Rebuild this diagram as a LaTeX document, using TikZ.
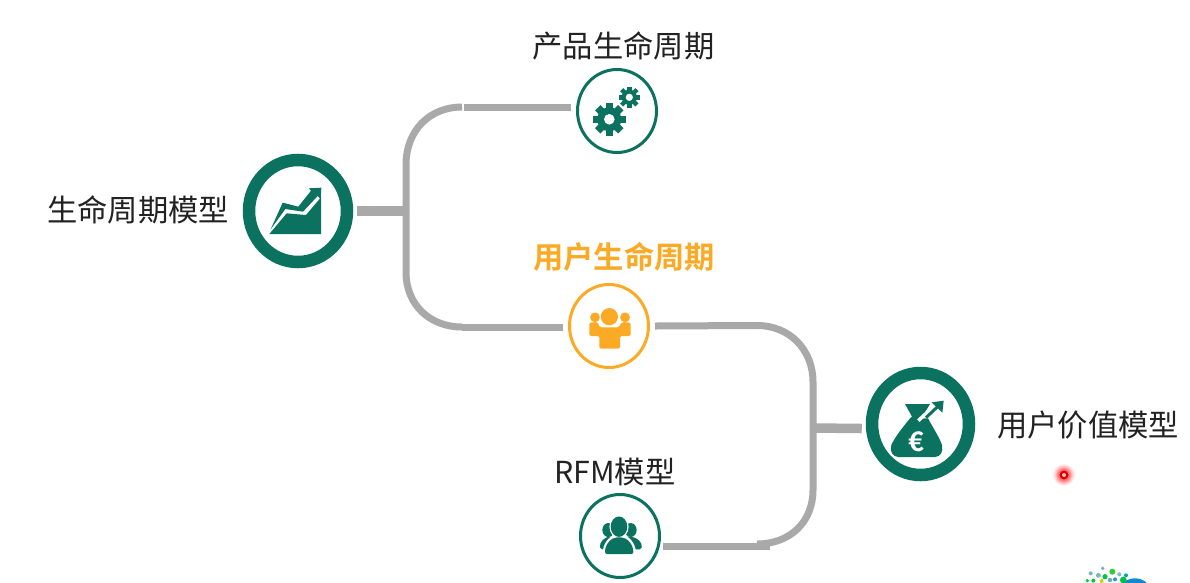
\documentclass[tikz,border=0pt]{standalone}
\usepackage{fontspec}
\setmainfont{Noto Sans CJK SC}[BoldFont={Noto Sans CJK SC Bold}]
\usetikzlibrary{shapes.geometric}
\definecolor{tgreen}{HTML}{0B7260}
\definecolor{torange}{HTML}{FBAA26}
\definecolor{tgrey}{HTML}{A9A9A9}
\definecolor{ttext}{HTML}{222222}
\tikzset{
  bigring/.style={ellipse,draw=tgreen,line width=12.5pt,inner sep=0pt,fill=white},
  thinring/.style={ellipse,draw=#1,line width=3pt,minimum width=79pt,minimum height=83pt,inner sep=0pt,fill=white},
  lab/.style={text=ttext,font=\fontsize{30.3}{32}\selectfont,inner sep=0pt,anchor=center},
  conn/.style={draw=tgrey,line width=7pt,line cap=butt},
  stem/.style={draw=tgrey,line width=9.5pt,line cap=butt},
  zoomed/.style={x=0.33333pt,y=-0.33333pt}
}
\begin{document}
\begin{tikzpicture}[x=1pt,y=-1pt]
\useasboundingbox (0,0) rectangle (1190,582);
\fill[white] (0,0) rectangle (1190,582);

% nodes
\node[bigring,minimum width=98pt,minimum height=102pt] (life) at (298,211) {};
\node[bigring,minimum width=97pt,minimum height=102pt] (value) at (920.5,424) {};
\node[thinring=tgreen] (prod) at (617,111) {};
\node[thinring=torange] (user) at (609,326) {};
\node[thinring=tgreen] (rfm) at (620,536) {};

\node[lab] (tlife) at (138,210) {生命周期模型};
\node[lab] (tprod) at (623.5,46) {产品生命周期};
\node[lab,text=torange,font=\fontsize{30.3}{32}\selectfont\bfseries] (tuser) at (624,257) {用户生命周期};
\node[lab] (trfm) at (615,472) {RFM模型};
\node[lab] (tvalue) at (1088,425) {用户价值模型};

% connectors
\coordinate (busL) at (406,211);
\coordinate (busR) at (813,428);
\draw[stem] ([xshift=4pt]life.east) -- (busL);
\draw[conn] (busL) -- (406,165) .. controls (406,130) and (430,107) .. (462,107);
\draw[conn] (464,107) -- ([xshift=-5pt,yshift=4pt]prod.west);
\draw[conn] (busL) -- (406,272) .. controls (406,305) and (430,327) .. (462,327);
\draw[conn] (462,327.5) -- ([xshift=-5pt,yshift=-1.5pt]user.west);
\draw[conn] ([xshift=5pt]user.east) -- (757,325.5);
\draw[conn] (757,325.5) .. controls (790,325.5) and (813,350) .. (813,382) -- (busR);
\draw[conn] (busR) -- (813,490) .. controls (813,522) and (790,544) .. (757,544);
\draw[conn] (770,546.5) -- ([xshift=2pt,yshift=-10.5pt]rfm.east);
\draw[stem] (busR) -- ([xshift=-4pt,yshift=-4.5pt]value.west);

% chart icon
\begin{scope}[shift={(230,60)},zoomed]
  \fill[tgreen] (118,522) -- (273,522) -- (273,412) -- (228,465) -- (170,460) -- cycle;
  \fill[tgreen] (122,508) -- (158,428) -- (205,440) -- (243,392) -- (236,385) -- (274,383) -- (272,418) -- (263,408) -- (219,455) -- (166,447) -- cycle;
\end{scope}

% gears icon
\begin{scope}[tgreen]
  \foreach \a in {0,45,...,315}
    \fill[rotate around={\a:(609.3,119.3)}] (605.5,119.3) rectangle (613.1,103);
  \fill (609.3,119.3) circle[radius=12pt];
  \fill[white] (609.3,119.3) circle[radius=5.3pt];
  \foreach \a in {0,45,...,315}
    \fill[rotate around={\a:(629.3,97.3)}] (627.1,97.3) rectangle (631.5,86.5);
  \fill (629.3,97.3) circle[radius=7.6pt];
  \fill[white] (629.3,97.3) circle[radius=3.6pt];
\end{scope}

% orange users icon
\begin{scope}[shift={(540,270)},zoomed]
  \fill[torange] (165,142) circle[radius=4.9pt];
  \fill[torange] (255,142) circle[radius=4.9pt];
  \fill[white] (208,140) circle[radius=9.6pt];
  \fill[white] (180,158) -- (236,158) -- (232,170) -- (184,170) -- cycle;
  \fill[torange,rounded corners=1.5pt] (148,158) -- (172,156) -- (180,172) -- (236,172) -- (246,156) -- (272,158) -- (272,198) -- (240,198) -- (240,236) -- (178,236) -- (178,198) -- (148,198) -- cycle;
  \fill[torange] (208,140) circle[radius=8.6pt];
\end{scope}

% green users icon
\begin{scope}[shift={(560,480)},zoomed]
  \fill[tgreen] (145,150) ellipse[x radius=6pt,y radius=7pt];
  \fill[tgreen] (212,150) ellipse[x radius=6pt,y radius=7pt];
  \fill[tgreen,rounded corners=2pt] (120,208) .. controls (118,185) and (135,172) .. (150,170) -- (208,170) .. controls (230,172) and (247,185) .. (245,208) -- cycle;
  \fill[white] (177,140) ellipse[x radius=9.6pt,y radius=11.5pt];
  \fill[white,rounded corners=3pt] (128,228) .. controls (128,190) and (150,165) .. (177,165) .. controls (205,165) and (228,190) .. (228,228) -- cycle;
  \fill[tgreen] (177,140) ellipse[x radius=8.3pt,y radius=10.2pt];
  \fill[tgreen,rounded corners=2pt] (135,222) .. controls (135,192) and (155,172) .. (177,172) .. controls (200,172) and (220,192) .. (220,222) -- cycle;
\end{scope}

% money bag icon
\begin{scope}[shift={(850,350)},zoomed]
  \fill[tgreen] (165,162) -- (240,162) -- (228,182) -- (216,205) -- (234,205) .. controls (250,235) and (268,262) .. (276,285) .. controls (280,305) and (272,320) .. (255,321) -- (145,321) .. controls (128,320) and (118,305) .. (124,285) .. controls (135,260) and (160,230) .. (180,205) -- (186,200) -- cycle;
  \draw[white,line width=3.5pt] (205,212) -- (250,170);
  \draw[tgreen,line width=3pt] (228,203) -- (268,165);
  \fill[tgreen] (245,157) -- (281,152) -- (277,188) -- cycle;
  \node[text=white,font=\fontsize{27}{27}\selectfont\bfseries,inner sep=0pt] (euro) at (200,274) {€};
\end{scope}

% pointer
\foreach \r/\o in {11/.06,10/.08,9/.1,8/.12,7/.15,6/.2}
  \fill[red,opacity=\o] (1064,475) circle[radius=\r pt];
\fill[red!90!black] (1064,475) circle[radius=4.5pt];
\fill[red!25!white] (1064,475) circle[radius=2pt];

% corner logo fragment
\begin{scope}[shift={(1060,550)},zoomed]
  \clip (0,0) rectangle (390,96);
  \fill[cyan!70!blue] (225,115) ellipse[x radius=14pt,y radius=10pt];
  \fill[green!65!black!70!cyan] (190,90) circle[radius=3.4pt];
  \foreach \x/\y/\r/\c in {128/55/1.8/teal!60,92/70/2/teal!55,115/76/2.4/teal!55,135/80/2.6/green!55!teal,157/65/3/green!60!gray,178/73/2.1/teal!50,100/92/2/green!60!teal,82/92/1.8/green!60!teal,125/93/2/yellow!70!green,150/90/2.2/teal!60,165/88/2/cyan!50!teal,198/76/2/cyan!50!green}
    \fill[\c] (\x,\y) circle[radius=\r pt];
\end{scope}
\end{tikzpicture}
\end{document}
